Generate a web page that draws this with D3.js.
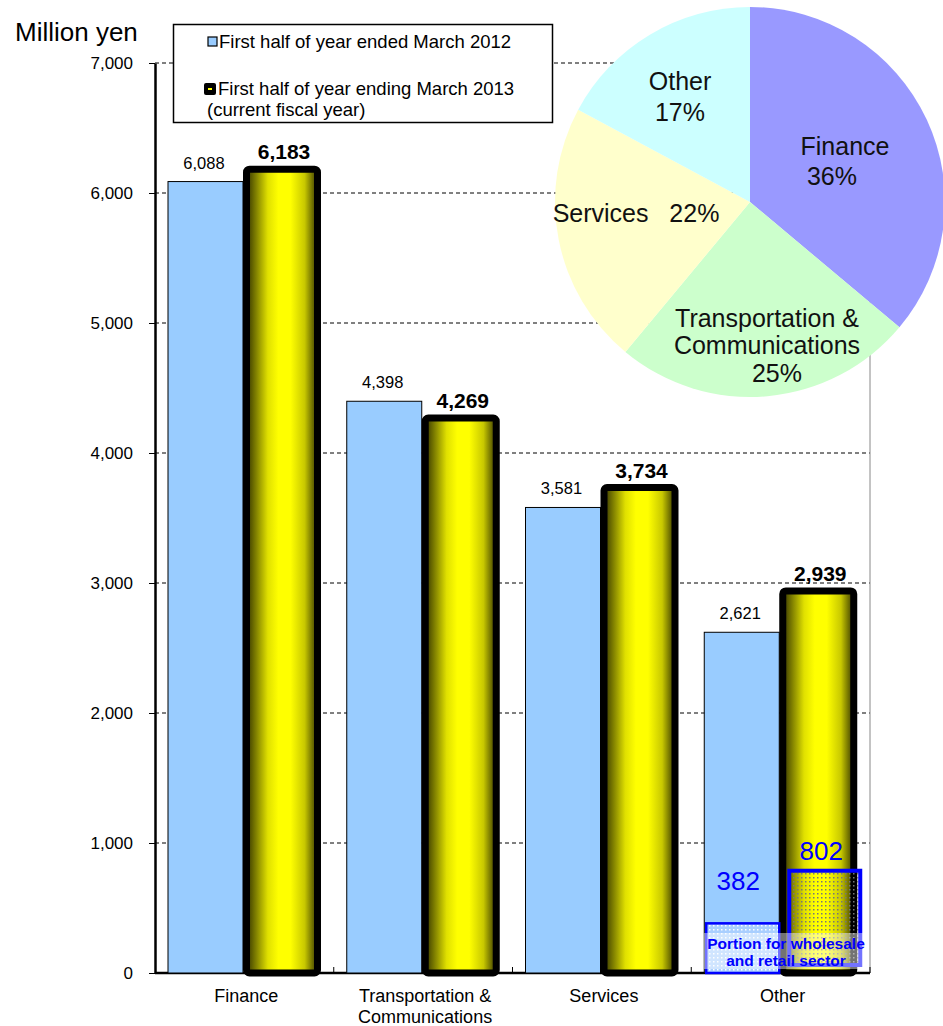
<!DOCTYPE html>
<html>
<head>
<meta charset="utf-8">
<script src="https://cdn.jsdelivr.net/npm/d3@7"></script>
<style>
  body { margin: 0; background: #fff; }
  text { font-family: "Liberation Sans", Arial, sans-serif; }
</style>
</head>
<body>
<div class="canvas"></div>
<script>
// data
const categories = ['Finance', 'Transportation & Communications', 'Services', 'Other']
const prevYear = [6088, 4398, 3581, 2621]
const currYear = [6183, 4269, 3734, 2939]
const pieLabels = ['Finance', 'Transportation & Communications', 'Services', 'Other']
const pieColors = ['#9999ff', '#ccffcc', '#ffffcc', '#ccffff']
const wholesale = [382, 802]
const yTicks = [0, 1000, 2000, 3000, 4000, 5000, 6000, 7000]
const seriesNames = ['First half of year ended March 2012', 'First half of year ending March 2013']

const svg = d3.select('.canvas')
  .append('svg')
  .attr('width', 943)
  .attr('height', 1026)

const defs = svg.append('defs')

// yellow cylinder look
const grad = defs.append('linearGradient').attr('id', 'yellowGrad')
  .attr('x1', '0%').attr('x2', '100%').attr('y1', '0%').attr('y2', '0%')
;[[0, '#333300'], [0.3, '#e0e000'], [0.45, '#ffff00'], [0.62, '#ffff00'], [0.82, '#c8c800'], [1, '#333300']]
  .forEach(s => grad.append('stop').attr('offset', s[0]).attr('stop-color', s[1]))

// dotted fill for the wholesale part
const dots = defs.append('pattern').attr('id', 'dots')
  .attr('width', 4).attr('height', 4).attr('patternUnits', 'userSpaceOnUse')
dots.append('rect').attr('width', 4).attr('height', 4).attr('fill', 'none')
dots.append('rect').attr('x', 1).attr('y', 1).attr('width', 1.5).attr('height', 1.5).attr('fill', '#777')

const dotsLight = defs.append('pattern').attr('id', 'dotsLight')
  .attr('width', 4).attr('height', 4).attr('patternUnits', 'userSpaceOnUse')
dotsLight.append('rect').attr('width', 4).attr('height', 4).attr('fill', '#a9cfff')
dotsLight.append('rect').attr('x', 1).attr('y', 1).attr('width', 1.5).attr('height', 1.5).attr('fill', '#ffffff')

// plot area
const plotLeft = 155, plotRight = 870, plotTop = 63, plotBottom = 973

const y = d3.scaleLinear().domain([0, 7000]).range([plotBottom, plotTop])
const x = d3.scaleBand().domain(categories).range([plotLeft, plotRight])
const x1 = d3.scaleBand().domain([0, 1]).range([13, 169])

// gridlines
svg.append('g')
  .selectAll('line')
  .data(yTicks.filter(d => d > 0))
  .enter().append('line')
  .attr('x1', plotLeft).attr('x2', plotRight)
  .attr('y1', d => y(d)).attr('y2', d => y(d))
  .attr('stroke', '#000').attr('stroke-dasharray', '4,3')

// right border
svg.append('line').attr('x1', plotRight).attr('x2', plotRight).attr('y1', plotTop).attr('y2', plotBottom)
  .attr('stroke', '#888')

// y axis
const yAxisGroup = svg.append('g').attr('transform', `translate(${plotLeft},0)`)
yAxisGroup.call(d3.axisLeft(y).tickValues(yTicks).tickFormat(d3.format(',')).tickSize(6).tickSizeOuter(0))
yAxisGroup.select('.domain').attr('stroke-width', 2.5)
yAxisGroup.selectAll('text').attr('font-size', 17).attr('x', -22).attr('fill', '#000')
  .attr('font-family', '"Liberation Sans", Arial, sans-serif')

// x axis
const xAxisGroup = svg.append('g').attr('transform', `translate(0,${plotBottom})`)
xAxisGroup.append('line').attr('x1', plotLeft).attr('x2', plotRight).attr('stroke', '#000').attr('stroke-width', 2.5)
xAxisGroup.selectAll('.tk')
  .data(categories.slice(1).concat(['end']))
  .enter().append('line')
  .attr('x1', d => d === 'end' ? plotRight : x(d)).attr('x2', d => d === 'end' ? plotRight : x(d))
  .attr('y1', 0).attr('y2', -6).attr('stroke', '#000')

// category labels
categories.forEach(c => {
  const words = c === 'Transportation & Communications' ? ['Transportation &', 'Communications'] : [c]
  const t = svg.append('text').attr('text-anchor', 'middle').attr('font-size', 18)
  words.forEach((w, i) => {
    t.append('tspan').attr('x', x(c) + x.bandwidth() / 2 + 2).attr('y', 1002 + i * 21).text(w)
  })
})

// blue bars
svg.append('g').selectAll('rect')
  .data(prevYear)
  .enter().append('rect')
  .attr('x', (d, i) => x(categories[i]) + x1(0))
  .attr('width', x1.bandwidth() - 3)
  .attr('y', d => y(d))
  .attr('height', d => plotBottom - y(d))
  .attr('fill', '#99ccff')
  .attr('stroke', '#000').attr('stroke-width', 1)

// yellow bars
svg.append('g').selectAll('rect')
  .data(currYear)
  .enter().append('rect')
  .attr('x', (d, i) => x(categories[i]) + x1(1) + 0.5)
  .attr('width', x1.bandwidth() - 7)
  .attr('y', d => y(d))
  .attr('height', d => plotBottom - y(d))
  .attr('rx', 3)
  .attr('fill', 'url(#yellowGrad)')
  .attr('stroke', '#000').attr('stroke-width', 7)

// value labels
svg.append('g').selectAll('text')
  .data(prevYear)
  .enter().append('text')
  .attr('x', (d, i) => x(categories[i]) + x1(0) + x1.bandwidth() / 2 - 3)
  .attr('y', d => y(d) - 13)
  .attr('text-anchor', 'middle').attr('font-size', 16.5)
  .text(d => d3.format(',')(d))

svg.append('g').selectAll('text')
  .data(currYear)
  .enter().append('text')
  .attr('x', (d, i) => x(categories[i]) + x1(1) + x1.bandwidth() / 2 - 1)
  .attr('y', d => y(d) - 10)
  .attr('text-anchor', 'middle').attr('font-size', 21).attr('font-weight', 'bold')
  .text(d => d3.format(',')(d))

// wholesale and retail portion in "Other"
const oth = categories[3]
svg.append('rect')
  .attr('x', x(oth) + x1(0) + 2).attr('width', x1.bandwidth() - 5)
  .attr('y', y(wholesale[0])).attr('height', plotBottom - y(wholesale[0]))
  .attr('fill', 'url(#dotsLight)').attr('stroke', '#0000ff').attr('stroke-width', 2.5)
svg.append('rect')
  .attr('x', x(oth) + x1(1) + 7).attr('width', x1.bandwidth() - 7)
  .attr('y', y(wholesale[1]) + 2).attr('height', plotBottom - y(wholesale[1]) - 10)
  .attr('fill', 'url(#dots)').attr('stroke', '#0000ff').attr('stroke-width', 4)
svg.append('text')
  .attr('x', x(oth) + x1(0) + x1.bandwidth() / 2 - 5).attr('y', y(wholesale[0]) - 33)
  .attr('text-anchor', 'middle').attr('font-size', 26).attr('fill', '#0000ff')
  .text(wholesale[0])
svg.append('text')
  .attr('x', x(oth) + x1(1) + x1.bandwidth() / 2).attr('y', y(wholesale[1]) - 9)
  .attr('text-anchor', 'middle').attr('font-size', 26).attr('fill', '#0000ff')
  .text(wholesale[1])
svg.append('rect')
  .attr('x', 704).attr('y', 933).attr('width', 164).attr('height', 36)
  .attr('fill', '#ffffff').attr('fill-opacity', 0.45)
const wt = svg.append('text').attr('text-anchor', 'middle').attr('font-size', 15.5)
  .attr('font-weight', 'bold').attr('fill', '#0000ff')
wt.append('tspan').attr('x', 786).attr('y', 949).text('Portion for wholesale')
wt.append('tspan').attr('x', 786).attr('y', 966).text('and retail sector')

// axis unit
svg.append('text').attr('x', 15).attr('y', 41).attr('font-size', 26).text('Million yen')

// legend
const legend = svg.append('g')
legend.append('rect').attr('x', 173.5).attr('y', 24.5).attr('width', 379).attr('height', 98)
  .attr('fill', '#fff').attr('stroke', '#000').attr('stroke-width', 1.5)
legend.append('rect').attr('x', 208).attr('y', 37).attr('width', 9).attr('height', 9)
  .attr('fill', '#99ccff').attr('stroke', '#000').attr('stroke-width', 1.2)
legend.append('text').attr('x', 219).attr('y', 48).attr('font-size', 18.5).text(seriesNames[0])
legend.append('rect').attr('x', 204).attr('y', 83).attr('width', 12).attr('height', 12).attr('rx', 2)
  .attr('fill', '#000')
legend.append('rect').attr('x', 208).attr('y', 88).attr('width', 4).attr('height', 2).attr('fill', '#ffff00')
const lt = legend.append('text').attr('font-size', 18.5)
lt.append('tspan').attr('x', 218).attr('y', 95).text(seriesNames[1])
lt.append('tspan').attr('x', 207).attr('y', 116).text('(current fiscal year)')

// pie
const pieData = d3.pie().sort(null)(currYear)
const arc = d3.arc().innerRadius(0).outerRadius(195)
const pieG = svg.append('g').attr('transform', 'translate(750,202)')
pieG.selectAll('path')
  .data(pieData)
  .enter().append('path')
  .attr('d', arc)
  .attr('fill', (d, i) => pieColors[i])

const total = d3.sum(currYear)
const pct = d => Math.round(d / total * 100) + '%'
const pieText = [
  { lines: [pieLabels[0], pct(currYear[0])], pos: [[845, 155], [832, 185]] },
  { lines: ['Transportation &', 'Communications', pct(currYear[1])], pos: [[767, 327], [767, 354], [777, 382]] },
  { lines: [pieLabels[2] + '   ' + pct(currYear[2])], pos: [[636, 222]] },
  { lines: [pieLabels[3], pct(currYear[3])], pos: [[680, 90], [680, 121]] }
]
pieText.forEach(p => {
  const t = svg.append('text').attr('text-anchor', 'middle').attr('font-size', 25).attr('fill', '#111')
    .style('white-space', 'pre')
  p.lines.forEach((l, i) => {
    t.append('tspan').attr('x', p.pos[i][0]).attr('y', p.pos[i][1]).text(l)
  })
})
</script>
</body>
</html>
